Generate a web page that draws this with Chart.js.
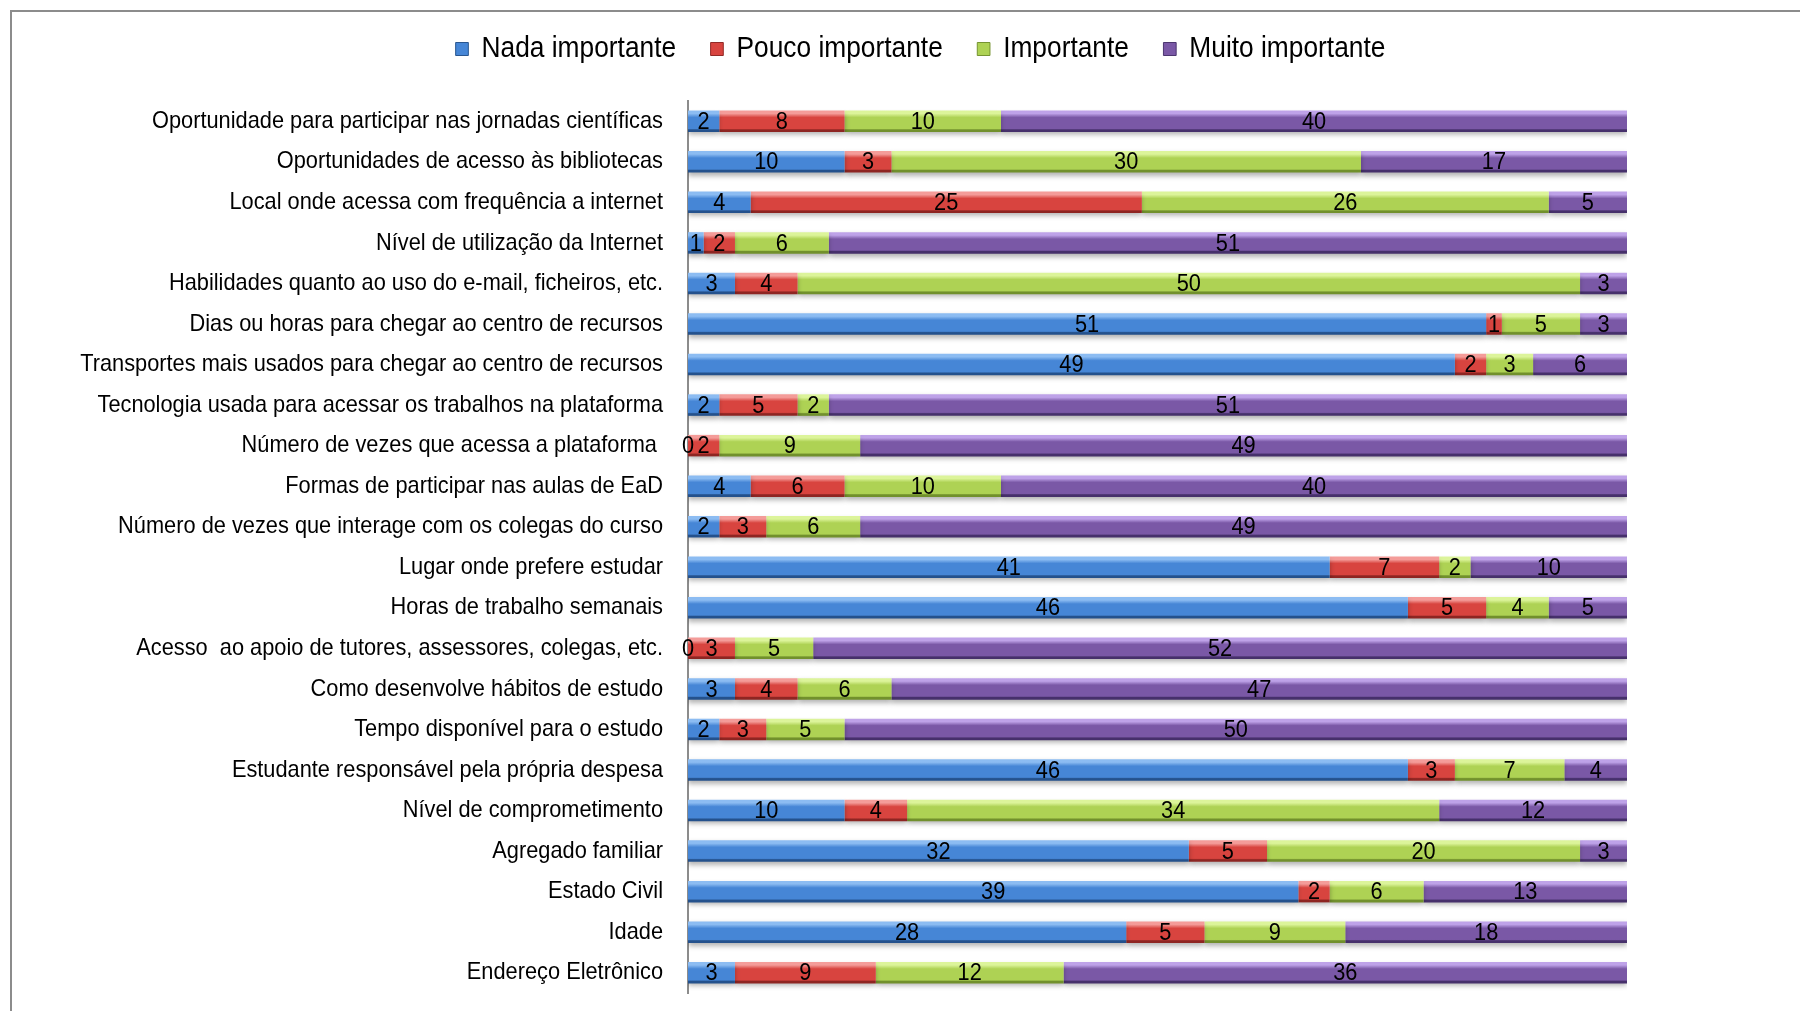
<!DOCTYPE html>
<html>
<head>
<meta charset="utf-8">
<script src="https://cdn.jsdelivr.net/npm/chart.js@4.4.1/dist/chart.umd.min.js"></script>
<style>
  html, body { margin: 0; padding: 0; background: #fff; }
  #wrap { position: relative; width: 1800px; height: 1011px; overflow: hidden; }
  #frame { position: absolute; left: 10px; top: 10px; width: 1800px; height: 1011px;
           border-top: 2px solid #8c8c8c; border-left: 2px solid #8c8c8c; }
  canvas { position: absolute; left: 0; top: 0; }
</style>
</head>
<body>
<div id="wrap">
  <div id="frame"></div>
  <canvas id="chart" width="1800" height="1011"></canvas>
</div>
<script>
// --- data, top row first ---
const categories = [
  "Oportunidade para participar nas jornadas científicas",
  "Oportunidades de acesso às bibliotecas",
  "Local onde acessa com frequência a internet",
  "Nível de utilização da Internet",
  "Habilidades quanto ao uso do e-mail, ficheiros, etc.",
  "Dias ou horas para chegar ao centro de recursos",
  "Transportes mais usados para chegar ao centro de recursos",
  "Tecnologia usada para acessar os trabalhos na plataforma",
  "Número de vezes que acessa a plataforma ",
  "Formas de participar nas aulas de EaD",
  "Número de vezes que interage com os colegas do curso",
  "Lugar onde prefere estudar",
  "Horas de trabalho semanais",
  "Acesso  ao apoio de tutores, assessores, colegas, etc.",
  "Como desenvolve hábitos de estudo",
  "Tempo disponível para o estudo",
  "Estudante responsável pela própria despesa",
  "Nível de comprometimento",
  "Agregado familiar",
  "Estado Civil",
  "Idade",
  "Endereço Eletrônico"
];
const nadaImportante  = [2, 10, 4, 1, 3, 51, 49, 2, 0, 4, 2, 41, 46, 0, 3, 2, 46, 10, 32, 39, 28, 3];
const poucoImportante = [8, 3, 25, 2, 4, 1, 2, 5, 2, 6, 3, 7, 5, 3, 4, 3, 3, 4, 5, 2, 5, 9];
const importante      = [10, 30, 26, 6, 50, 5, 3, 2, 9, 10, 6, 2, 4, 5, 6, 5, 7, 34, 20, 6, 9, 12];
const muitoImportante = [40, 17, 5, 51, 3, 3, 6, 51, 49, 40, 49, 10, 5, 52, 47, 50, 4, 12, 3, 13, 18, 36];
const seriesNames = ["Nada importante", "Pouco importante", "Importante", "Muito importante"];
const axisMax = 60;

// light / base / dark per series
const palette = [
  ["#8cbcf2", "#4686d6", "#24518c"],
  ["#f49c99", "#d8443f", "#8e2522"],
  ["#dcf49a", "#aed254", "#71902c"],
  ["#bea2e8", "#7a58a6", "#46306b"]
];

const fontSize = 24;
const legendFontSize = 29;
const fontFamily = "'Liberation Sans', Arial, sans-serif";
const fontCss = fontSize + "px " + fontFamily;
const chartFont = { size: fontSize, family: fontFamily };

// the original text is a narrow face; squeeze the regular one to the same width
const probe = document.createElement("canvas").getContext("2d");
probe.font = fontCss;
const squeeze = Math.min(1, 511 / probe.measureText(categories[0]).width);

function squeezed(ctx, anchorX, drawFn) {
  ctx.save();
  ctx.translate(anchorX, 0);
  ctx.scale(squeeze, 1);
  ctx.translate(-anchorX, 0);
  drawFn();
  ctx.restore();
}

// vertical bevel gradient for each bar, from the y scale's own band positions
function bevel(cols) {
  return (c) => {
    const ys = c.chart.scales.y;
    if (!ys || c.dataIndex === undefined) return cols[1];
    const yc = ys.getPixelForValue(c.dataIndex);
    const band = Math.abs(ys.getPixelForValue(1) - ys.getPixelForValue(0));
    if (!isFinite(yc) || !isFinite(band) || band === 0) return cols[1];
    const half = band * 0.53 / 2;
    const g = c.chart.ctx.createLinearGradient(0, yc - half, 0, yc + half);
    g.addColorStop(0, cols[0]);
    g.addColorStop(0.14, cols[0]);
    g.addColorStop(0.32, cols[1]);
    g.addColorStop(0.84, cols[1]);
    g.addColorStop(0.9, cols[2]);
    g.addColorStop(1, cols[2]);
    return g;
  };
}

// shadow under bars + value labels in the middle of each segment
const barExtras = {
  id: "barExtras",
  beforeDatasetsDraw(chart) {
    const ctx = chart.ctx;
    ctx.save();
    ctx.shadowColor = "rgba(0,0,0,0.3)";
    ctx.shadowBlur = 5;
    ctx.shadowOffsetY = 3;
  },
  afterDatasetsDraw(chart) {
    const ctx = chart.ctx;
    ctx.restore();
    ctx.save();
    ctx.font = fontCss;
    ctx.fillStyle = "#000";
    ctx.textAlign = "center";
    ctx.textBaseline = "middle";
    chart.data.datasets.forEach((ds, i) => {
      chart.getDatasetMeta(i).data.forEach((bar, j) => {
        const p = bar.getProps(["x", "y", "base"], true);
        const cx = (p.x + p.base) / 2;
        squeezed(ctx, cx, () => ctx.fillText(String(ds.data[j]), cx, p.y + 1));
      });
    });
    ctx.restore();
  }
};

// legend row placement, and narrow text for legend and category labels
const legendCenter = 920.5;
const legendPlace = {
  id: "legendPlace",
  afterLayout(chart) {
    const lg = chart.legend;
    if (lg) {
      lg.left = 41;
      lg.right = 1800;
      lg.width = lg.right - lg.left;
      lg.top = 49 - lg.options.labels.padding - legendFontSize / 2;
      if (!lg._squeezed) {
        const draw = lg.draw.bind(lg);
        lg.draw = (area) => squeezed(chart.ctx, legendCenter, () => draw(area));
        lg._squeezed = true;
      }
    }
    const ys = chart.scales.y;
    if (ys && !ys._squeezed) {
      const drawLabels = ys.drawLabels.bind(ys);
      ys.drawLabels = (area) =>
        squeezed(chart.ctx, ys.right - ys.options.ticks.padding, () => drawLabels(area));
      ys._squeezed = true;
    }
  }
};

const datasets = [nadaImportante, poucoImportante, importante, muitoImportante].map((vals, i) => ({
  label: seriesNames[i],
  data: vals,
  backgroundColor: bevel(palette[i]),
  borderWidth: 0,
  barPercentage: 0.53,
  categoryPercentage: 1
}));

new Chart(document.getElementById("chart"), {
  type: "bar",
  data: { labels: categories, datasets },
  options: {
    indexAxis: "y",
    responsive: false,
    animation: false,
    layout: { padding: { left: 0, right: 173, top: 24, bottom: 18 } },
    plugins: {
      tooltip: { enabled: false },
      legend: {
        position: "top",
        labels: {
          font: { size: legendFontSize, family: fontFamily },
          color: "#000",
          boxWidth: 14,
          boxHeight: 13,
          padding: 38,
          generateLabels(chart) {
            const items = Chart.defaults.plugins.legend.labels.generateLabels(chart);
            items.forEach((it, i) => {
              it.fillStyle = palette[i][1];
              it.strokeStyle = palette[i][2];
              it.lineWidth = 1;
            });
            return items;
          }
        }
      }
    },
    scales: {
      x: { stacked: true, min: 0, max: axisMax, display: false },
      y: {
        stacked: true,
        grid: { display: false, drawTicks: false },
        border: { display: true, color: "#8c8c8c", width: 2 },
        ticks: {
          autoSkip: false,
          padding: 25,
          color: "#000",
          font: chartFont
        },
        afterFit(scale) {
          scale.width = 688;
          scale.paddingTop = 0;
          scale.paddingBottom = 0;
        }
      }
    }
  },
  plugins: [barExtras, legendPlace]
});
</script>
</body>
</html>
